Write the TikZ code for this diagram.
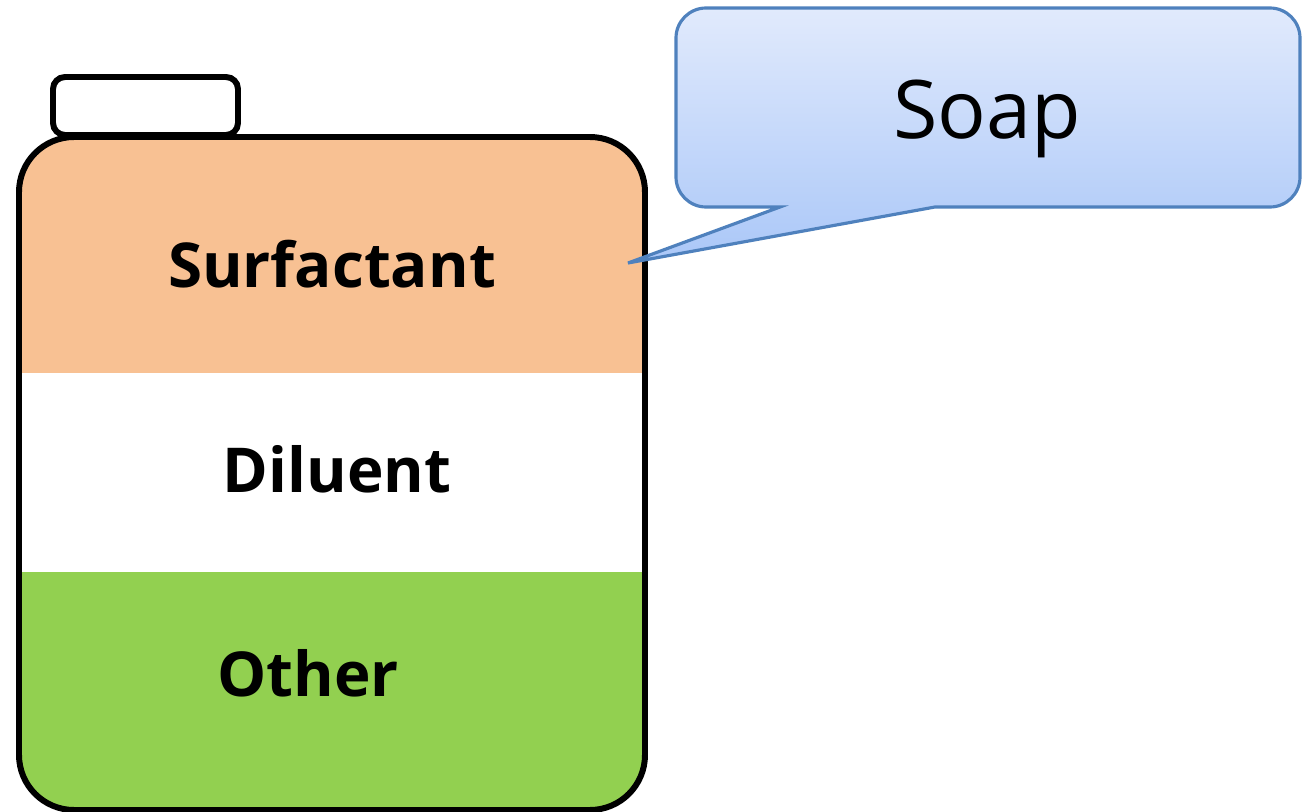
\documentclass[tikz,border=0pt]{standalone}
\usepackage{fontspec}
\setmainfont{Open Sans}
\usepackage{tikz}
\usetikzlibrary{positioning}
\definecolor{surforange}{RGB}{248,193,147}
\definecolor{othergreen}{RGB}{146,208,80}
\definecolor{soapline}{RGB}{79,129,189}
\definecolor{soaptop}{RGB}{225,234,252}
\definecolor{soapbottom}{RGB}{170,199,248}
\tikzset{
    band/.style={anchor=base, font=\bfseries\fontsize{17.6}{22}\selectfont},
    bottle/.style={line width=1.7pt, rounded corners=0.55cm},
}

\begin{document}
\begin{tikzpicture}[x=0.01cm, y=-0.01cm]
    \useasboundingbox (0,0) rectangle (1308,812);
    % layers of the bottle
    \begin{scope}
        \clip[rounded corners=0.55cm] (19,137) rectangle (645,810);
        \fill[surforange] (19,137) rectangle (645,373);
        \fill[white] (19,373) rectangle (645,572);
        \fill[othergreen] (19,572) rectangle (645,810);
    \end{scope}
    \draw[bottle] (19,137) rectangle (645,810);
    \draw[line width=1.7pt, rounded corners=0.12cm, fill=white] (53,77) rectangle (238,135);

    \node[band] at (332,287) (surf) {Surfactant};
    \node[band] at (337,492) (dil) {Diluent};
    \node[band] at (308,696) (oth) {Other};

    % callout
    \coordinate (tip) at (628,263);
    \draw[soapline, line width=0.9pt, top color=soaptop, bottom color=soapbottom]
        (780,207) -- (tip) -- (935,207)
        {[rounded corners=0.3cm] -- (1300,207) -- (1300,8) -- (676,8) -- (676,207)} -- cycle;
    \node[anchor=base, font=\fontsize{23}{28}\selectfont] at (987,138) (soap) {Soap};
\end{tikzpicture}
\end{document}
